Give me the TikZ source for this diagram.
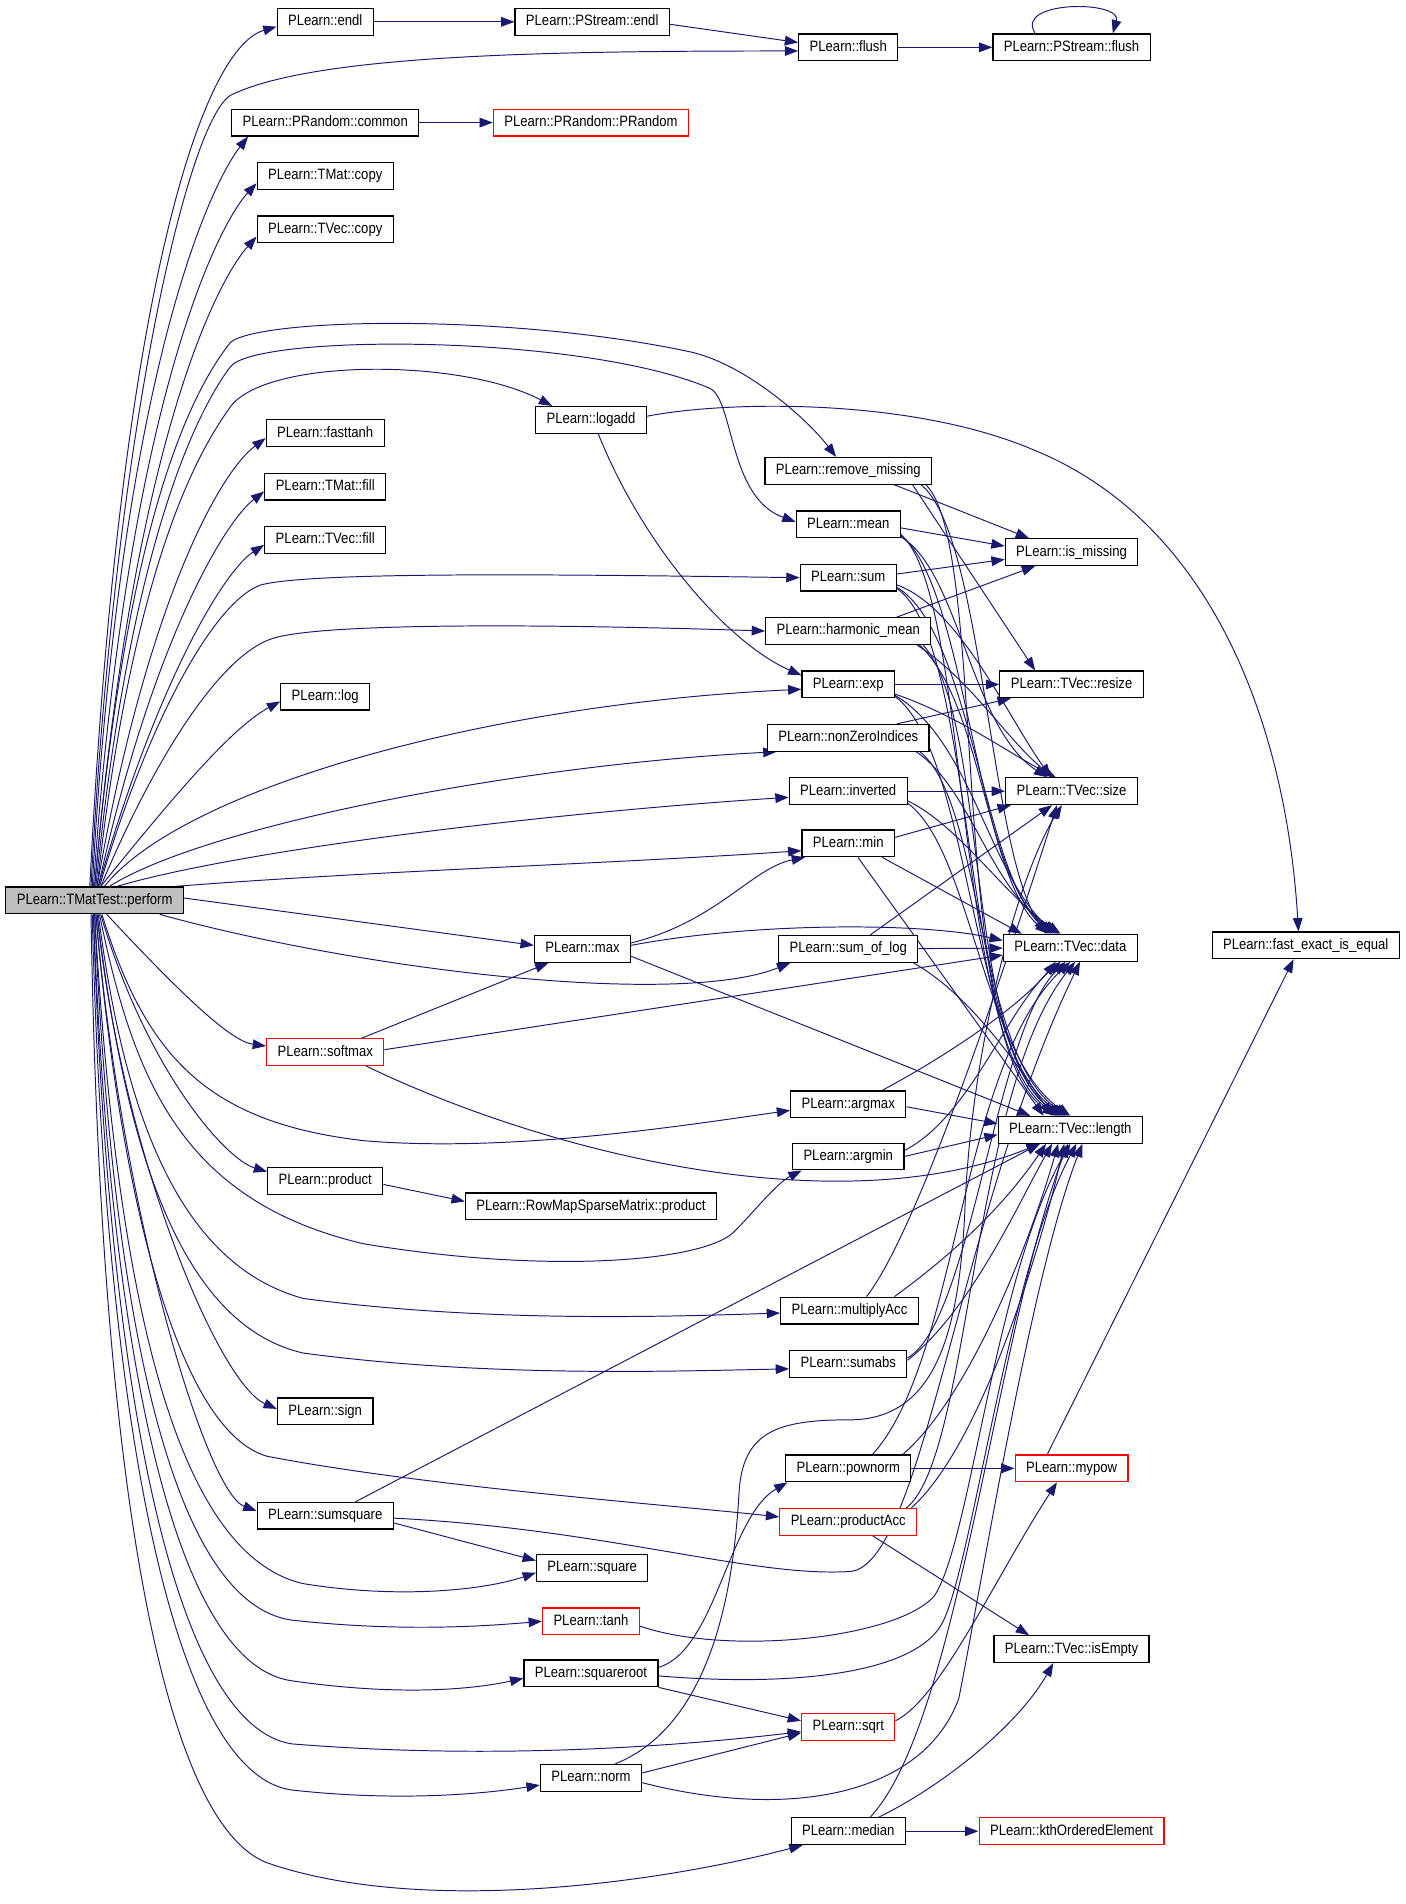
\documentclass[tikz,border=0pt]{standalone}
\usepackage{fontspec}
\setmainfont{Liberation Sans}[FakeStretch=0.87]
\usetikzlibrary{arrows.meta,backgrounds}
\definecolor{callblue}{HTML}{191970}
\definecolor{boxred}{HTML}{FF0000}
\definecolor{rootgray}{HTML}{BFBFBF}

\begin{document}
\begin{tikzpicture}[x=1pt,y=-1pt,
    fn/.style={draw=black,line width=1pt,fill=white,inner xsep=9pt,inner ysep=0pt,minimum height=22pt,text height=9pt,text depth=2.5pt,font=\fontsize{12.4}{14}\selectfont},
    fnred/.style={fn,draw=boxred},
    fnroot/.style={fn,fill=rootgray},
    call/.style={draw=callblue,line width=0.8pt,-{Triangle[length=11pt,width=8pt]}}]
    \useasboundingbox (0,0) rectangle (1158,1569);
    \node[fnroot] (perform) at (78,742) {PLearn::TMatTest::perform};
    \node[fn] (endl) at (268,18) {PLearn::endl};
    \node[fn] (common) at (268,101) {PLearn::PRandom::common};
    \node[fn] (tmatcopy) at (268,145) {PLearn::TMat::copy};
    \node[fn] (tveccopy) at (268,189) {PLearn::TVec::copy};
    \node[fn] (fasttanh) at (268,357) {PLearn::fasttanh};
    \node[fn] (tmatfill) at (268,401) {PLearn::TMat::fill};
    \node[fn] (tvecfill) at (268,445) {PLearn::TVec::fill};
    \node[fn] (log) at (268,574) {PLearn::log};
    \node[fnred] (softmax) at (268,867) {PLearn::softmax};
    \node[fn] (product) at (268,973) {PLearn::product};
    \node[fn] (sign) at (268,1163) {PLearn::sign};
    \node[fn] (sumsquare) at (268,1249) {PLearn::sumsquare};
    \node[fn] (pendl) at (488,18) {PLearn::PStream::endl};
    \node[fnred] (prandom) at (487,101) {PLearn::PRandom::PRandom};
    \node[fn] (logadd) at (487,346) {PLearn::logadd};
    \node[fn] (max) at (480,782) {PLearn::max};
    \node[fn] (rowprod) at (487,994) {PLearn::RowMapSparseMatrix::product};
    \node[fn] (square) at (488,1292) {PLearn::square};
    \node[fnred] (tanh) at (487,1336) {PLearn::tanh};
    \node[fn] (squareroot) at (487,1379) {PLearn::squareroot};
    \node[fn] (norm) at (487,1465) {PLearn::norm};
    \node[fn] (flush) at (699,39) {PLearn::flush};
    \node[fn] (removemissing) at (699,388) {PLearn::remove\_missing};
    \node[fn] (mean) at (699,432) {PLearn::mean};
    \node[fn] (sum) at (699,476) {PLearn::sum};
    \node[fn] (hmean) at (699,520) {PLearn::harmonic\_mean};
    \node[fn] (exp) at (699,564) {PLearn::exp};
    \node[fn] (nonzero) at (699,608) {PLearn::nonZeroIndices};
    \node[fn] (inverted) at (699,652) {PLearn::inverted};
    \node[fn] (min) at (699,695) {PLearn::min};
    \node[fn] (sumoflog) at (699,782) {PLearn::sum\_of\_log};
    \node[fn] (argmax) at (699,910) {PLearn::argmax};
    \node[fn] (argmin) at (699,953) {PLearn::argmin};
    \node[fn] (multacc) at (700,1080) {PLearn::multiplyAcc};
    \node[fn] (sumabs) at (699,1124) {PLearn::sumabs};
    \node[fn] (pownorm) at (699,1210) {PLearn::pownorm};
    \node[fnred] (prodacc) at (699,1254) {PLearn::productAcc};
    \node[fnred] (sqrt) at (699,1423) {PLearn::sqrt};
    \node[fn] (median) at (699,1509) {PLearn::median};
    \node[fn] (pflush) at (883,39) {PLearn::PStream::flush};
    \node[fn] (ismissing) at (883,455) {PLearn::is\_missing};
    \node[fn] (resize) at (883,564) {PLearn::TVec::resize};
    \node[fn] (size) at (883,652) {PLearn::TVec::size};
    \node[fn] (data) at (882,781) {PLearn::TVec::data};
    \node[fn] (length) at (882,931) {PLearn::TVec::length};
    \node[fnred] (mypow) at (883,1210) {PLearn::mypow};
    \node[fn] (isempty) at (883,1359) {PLearn::TVec::isEmpty};
    \node[fnred] (kth) at (883,1509) {PLearn::kthOrderedElement};
    \node[fn] (fastequal) at (1076,779) {PLearn::fast\_exact\_is\_equal};
    \begin{scope}[on background layer]
    \draw[call] ([xshift=-4pt]perform.north) .. controls (98,250) and (165,40) .. ([yshift=-4pt]endl.west);
    \draw[call] ([xshift=-3pt]perform.north) .. controls (95,350) and (156,95) .. (191,78) .. controls (260,45) and (450,42) .. ([yshift=-3pt]flush.west);
    \draw[call] ([xshift=-2pt]perform.north) .. controls (100,300) and (175,150) .. ([xshift=14pt]common.south west);
    \draw[call] ([xshift=-1pt]perform.north) .. controls (105,330) and (180,185) .. ([yshift=-6pt]tmatcopy.west);
    \draw[call] (perform.north) .. controls (110,360) and (180,230) .. ([yshift=-6pt]tveccopy.west);
    \draw[call] (perform.north) .. controls (105,420) and (160,320) .. (190,282) .. controls (215,262) and (420,258) .. (569,290) .. controls (614,300) and (665,345) .. ([xshift=-10pt]removemissing.north);
    \draw[call] ([xshift=1pt]perform.north) .. controls (108,440) and (165,335) .. (190,302) .. controls (212,275) and (480,275) .. (585,320) .. controls (605,330) and (600,410) .. ([yshift=2pt]mean.west);
    \draw[call] ([xshift=2pt]perform.north) .. controls (110,460) and (165,370) .. (190,335) .. controls (220,295) and (380,295) .. ([xshift=-32pt]logadd.north);
    \draw[call] ([xshift=2pt]perform.north) .. controls (120,500) and (180,390) .. ([yshift=-4pt]fasttanh.west);
    \draw[call] ([xshift=3pt]perform.north) .. controls (125,530) and (185,430) .. ([yshift=-4pt]tmatfill.west);
    \draw[call] ([xshift=3pt]perform.north) .. controls (130,560) and (185,470) .. ([yshift=-4pt]tvecfill.west);
    \draw[call] ([xshift=4pt]perform.north) .. controls (120,600) and (175,496) .. (215,482) .. controls (260,470) and (500,474) .. (sum.west);
    \draw[call] ([xshift=5pt]perform.north) .. controls (125,630) and (180,540) .. (225,526) .. controls (270,512) and (480,515) .. (hmean.west);
    \draw[call] ([xshift=5pt]perform.north) .. controls (140,660) and (190,600) .. ([yshift=-4pt]log.west);
    \draw[call] ([xshift=8pt]perform.north) .. controls (150,650) and (400,580) .. ([yshift=-4pt]exp.west);
    \draw[call] ([xshift=12pt]perform.north) .. controls (170,680) and (430,630) .. ([xshift=8pt]nonzero.south west);
    \draw[call] ([xshift=18pt]perform.north) .. controls (200,700) and (450,670) .. ([yshift=-5pt]inverted.west);
    \draw[call] ([xshift=-8pt]perform.north east) .. controls (300,718) and (500,712) .. ([yshift=-6pt]min.west);
    \draw[call] ([yshift=2pt]perform.east) -- ([yshift=3pt]max.west);
    \draw[call] ([xshift=-20pt]perform.south east) .. controls (300,800) and (560,830) .. ([xshift=10pt]sumoflog.south west);
    \draw[call] ([xshift=10pt]perform.south) .. controls (150,820) and (190,858) .. ([yshift=5pt]softmax.west);
    \draw[call] ([xshift=6pt]perform.south) .. controls (120,870) and (170,925) .. (300,940) .. controls (420,950) and (560,928) .. ([yshift=-5pt]argmax.west);
    \draw[call] ([xshift=5pt]perform.south) .. controls (120,880) and (185,955) .. ([yshift=-4pt]product.north west);
    \draw[call] ([xshift=4pt]perform.south) .. controls (110,890) and (150,990) .. (300,1025) .. controls (450,1050) and (580,1040) .. (605,1015) .. controls (620,1000) and (640,975) .. ([xshift=8pt]argmin.south west);
    \draw[call] ([xshift=3pt]perform.south) .. controls (100,900) and (140,1040) .. (250,1070) .. controls (400,1090) and (550,1085) .. ([yshift=-2pt]multacc.west);
    \draw[call] ([xshift=2pt]perform.south) .. controls (100,920) and (140,1090) .. (250,1115) .. controls (400,1135) and (550,1130) .. ([yshift=-4pt]sumabs.west);
    \draw[call] ([xshift=2pt]perform.south) .. controls (100,950) and (180,1140) .. ([yshift=2pt]sign.west);
    \draw[call] ([xshift=1pt]perform.south) .. controls (100,1000) and (150,1180) .. (220,1200) .. controls (350,1225) and (550,1240) .. ([yshift=4pt]prodacc.west);
    \draw[call] ([xshift=1pt]perform.south) .. controls (100,1000) and (170,1230) .. ([yshift=4pt]sumsquare.west);
    \draw[call] (perform.south) .. controls (95,1050) and (140,1280) .. (250,1305) .. controls (330,1318) and (400,1310) .. ([yshift=-4pt]square.west);
    \draw[call] (perform.south) .. controls (92,1080) and (140,1320) .. (240,1335) .. controls (330,1345) and (400,1340) .. (tanh.west);
    \draw[call] ([xshift=-1pt]perform.south) .. controls (90,1100) and (140,1370) .. (240,1385) .. controls (330,1398) and (390,1392) .. ([yshift=-4pt]squareroot.west);
    \draw[call] ([xshift=-1pt]perform.south) .. controls (88,1130) and (140,1420) .. (240,1437) .. controls (400,1450) and (550,1440) .. ([yshift=-4pt]sqrt.west);
    \draw[call] ([xshift=-2pt]perform.south) .. controls (86,1160) and (140,1460) .. (240,1475) .. controls (330,1485) and (400,1478) .. ([yshift=-6pt]norm.west);
    \draw[call] ([xshift=-3pt]perform.south) .. controls (82,1200) and (130,1500) .. (220,1535) .. controls (350,1580) and (550,1550) .. ([xshift=10pt]median.south west);
    \draw[call] (endl) -- (pendl);
    \draw[call] ([yshift=-2pt]pendl.east) -- ([yshift=4pt]flush.west);
    \draw[call] (flush) -- (pflush);
    \draw[call] ([xshift=-30pt]pflush.north) .. controls (835,0) and (925,0) .. ([xshift=34pt]pflush.north);
    \draw[call] (common) -- (prandom);
    \draw[call] ([yshift=3pt]logadd.east) .. controls (600,330) and (750,328) .. (850,370) .. controls (1000,430) and (1060,600) .. ([xshift=-6pt]fastequal.north);
    \draw[call] ([xshift=6pt]logadd.south) .. controls (530,450) and (600,530) .. ([yshift=-4pt]exp.north west);
    \draw[call] ([xshift=38pt]removemissing.south) -- ([xshift=-35pt]ismissing.north);
    \draw[call] ([xshift=53pt]removemissing.south) -- ([xshift=-30pt]resize.north);
    \draw[call] ([xshift=60pt]removemissing.south) .. controls (810,440) and (815,700) .. ([xshift=-20pt]data.north);
    \draw[call] ([xshift=64pt]removemissing.south) .. controls (815,450) and (780,860) .. ([xshift=-12pt]length.north);
    \draw[call] ([yshift=-3pt]mean.east) -- ([yshift=5pt]ismissing.west);
    \draw[call] ([yshift=1pt]mean.south east) .. controls (790,470) and (800,600) .. ([xshift=-20pt]size.north);
    \draw[call] ([yshift=2pt]mean.south east) .. controls (795,480) and (805,720) .. ([xshift=-18pt]data.north);
    \draw[call] ([yshift=3pt]mean.south east) .. controls (800,490) and (785,860) .. ([xshift=-10pt]length.north);
    \draw[call] ([yshift=3pt]sum.east) -- ([yshift=-6pt]ismissing.west);
    \draw[call] ([yshift=-6pt]sum.east) .. controls (790,500) and (830,590) .. ([xshift=-17pt]size.north);
    \draw[call] ([yshift=-8pt]sum.east) .. controls (800,520) and (810,720) .. ([xshift=-16pt]data.north);
    \draw[call] ([yshift=-9pt]sum.east) .. controls (805,530) and (790,860) .. ([xshift=-8pt]length.north);
    \draw[call] ([xshift=40pt]hmean.north) -- ([xshift=-30pt]ismissing.south);
    \draw[call] ([xshift=-12pt]hmean.south east) .. controls (800,560) and (830,610) .. ([xshift=-15pt]size.north);
    \draw[call] ([xshift=-10pt]hmean.south east) .. controls (810,580) and (810,720) .. ([xshift=-14pt]data.north);
    \draw[call] ([xshift=-7pt]hmean.south east) .. controls (815,590) and (795,870) .. ([xshift=-6pt]length.north);
    \draw[call] (exp) -- (resize);
    \draw[call] ([yshift=-8pt]exp.east) .. controls (790,590) and (830,620) .. ([xshift=-13pt]size.north);
    \draw[call] ([yshift=-9pt]exp.east) .. controls (800,610) and (815,720) .. ([xshift=-12pt]data.north);
    \draw[call] ([yshift=-10pt]exp.east) .. controls (800,620) and (800,870) .. ([xshift=-4pt]length.north);
    \draw[call] ([xshift=40pt]nonzero.north) -- ([xshift=-50pt]resize.south);
    \draw[call] ([xshift=56pt]nonzero.south) .. controls (800,650) and (815,730) .. ([xshift=-10pt]data.north);
    \draw[call] ([xshift=59pt]nonzero.south) .. controls (810,660) and (805,870) .. ([xshift=-2pt]length.north);
    \draw[call] (inverted) -- (size);
    \draw[call] ([yshift=-8pt]inverted.east) .. controls (790,680) and (830,740) .. ([xshift=-8pt]data.north);
    \draw[call] ([yshift=-10pt]inverted.east) .. controls (800,700) and (810,870) .. (length.north);
    \draw[call] ([yshift=5pt]min.east) -- ([xshift=-50pt]size.south);
    \draw[call] ([xshift=28pt]min.south) -- ([xshift=-40pt]data.north);
    \draw[call] ([xshift=8pt]min.south) -- ([xshift=-22pt]length.north);
    \draw[call] ([yshift=5pt]max.east) .. controls (590,760) and (620,715) .. ([xshift=3pt]min.south west);
    \draw[call] ([yshift=3pt]max.east) .. controls (620,760) and (760,760) .. ([yshift=6pt]data.west);
    \draw[call] ([yshift=-6pt]max.east) -- ([xshift=-33pt]length.north);
    \draw[call] ([xshift=18pt]sumoflog.north) -- ([xshift=-16pt]size.south);
    \draw[call] (sumoflog) -- (data);
    \draw[call] ([xshift=-4pt]sumoflog.south east) .. controls (800,820) and (840,880) .. ([xshift=-15pt]length.north);
    \draw[call] ([xshift=30pt]softmax.north) -- ([xshift=12pt]max.south west);
    \draw[call] ([yshift=2pt]softmax.east) -- ([yshift=-6pt]data.west);
    \draw[call] ([xshift=-15pt]softmax.south east) .. controls (450,950) and (690,1010) .. ([xshift=-25pt]length.south);
    \draw[call] ([xshift=28pt]argmax.north) .. controls (780,870) and (840,830) .. ([xshift=-12pt]data.south);
    \draw[call] ([yshift=-2pt]argmax.east) -- ([yshift=5pt]length.west);
    \draw[call] ([yshift=5pt]argmin.east) .. controls (800,920) and (830,830) .. ([xshift=-8pt]data.south);
    \draw[call] (argmin.east) -- ([yshift=-4pt]length.west);
    \draw[call] ([yshift=-3pt]product.east) -- ([yshift=4pt]rowprod.west);
    \draw[call] ([xshift=14pt]multacc.north) .. controls (760,1010) and (840,760) .. ([xshift=-12pt]size.south);
    \draw[call] ([xshift=37pt]multacc.north) .. controls (790,1030) and (830,990) .. ([xshift=-20pt]length.south);
    \draw[call] ([yshift=5pt]sumabs.east) .. controls (800,1090) and (820,850) .. ([xshift=-4pt]data.south);
    \draw[call] ([yshift=3pt]sumabs.east) .. controls (800,1080) and (840,990) .. ([xshift=-15pt]length.south);
    \draw[call] (pownorm) -- (mypow);
    \draw[call] ([xshift=20pt]pownorm.north) .. controls (790,1120) and (790,880) .. (data.south);
    \draw[call] ([xshift=45pt]pownorm.north) .. controls (800,1150) and (850,1020) .. ([xshift=-10pt]length.south);
    \draw[call] ([xshift=48pt]prodacc.north) .. controls (800,1200) and (800,900) .. ([xshift=4pt]data.south);
    \draw[call] ([xshift=52pt]prodacc.north) .. controls (810,1190) and (860,1020) .. ([xshift=-5pt]length.south);
    \draw[call] ([xshift=20pt]prodacc.south) -- ([xshift=-35pt]isempty.north);
    \draw[call] ([yshift=-6pt]sumsquare.east) -- ([yshift=6pt]square.west);
    \draw[call] ([xshift=25pt]sumsquare.north) -- ([xshift=-25pt]length.south);
    \draw[call] ([yshift=-2pt]sumsquare.east) .. controls (500,1260) and (620,1300) .. (700,1295) .. controls (760,1292) and (790,1000) .. ([xshift=8pt]data.south);
    \draw[call] ([yshift=-4pt]tanh.east) .. controls (600,1365) and (740,1350) .. (770,1315) .. controls (800,1270) and (820,1050) .. (length.south);
    \draw[call] ([yshift=5pt]squareroot.east) .. controls (590,1360) and (600,1250) .. ([xshift=2pt]pownorm.south west);
    \draw[call] ([yshift=-2pt]squareroot.east) .. controls (650,1390) and (750,1380) .. (775,1340) .. controls (800,1300) and (830,1050) .. ([xshift=5pt]length.south);
    \draw[call] (squareroot.south east) -- ([yshift=5pt]sqrt.west);
    \draw[call] ([yshift=5pt]sqrt.east) .. controls (775,1400) and (820,1300) .. ([xshift=-12pt]mypow.south);
    \draw[call] ([yshift=4pt]norm.east) -- ([yshift=-5pt]sqrt.west);
    \draw[call] ([yshift=-4pt]norm.east) .. controls (650,1500) and (760,1480) .. (790,1400) .. controls (810,1300) and (850,1050) .. ([xshift=10pt]length.south);
    \draw[call] ([xshift=20pt]norm.north) .. controls (590,1420) and (605,1300) .. (609,1230) .. controls (612,1180) and (640,1170) .. (700,1170) .. controls (770,1170) and (790,1100) .. (795,1000) .. controls (800,860) and (840,720) .. ([xshift=-8pt]size.south);
    \draw[call] (median) -- (kth);
    \draw[call] ([xshift=25pt]median.north) .. controls (780,1470) and (840,1420) .. ([xshift=-15pt]isempty.south);
    \draw[call] ([xshift=18pt]median.north) .. controls (790,1420) and (820,1100) .. ([xshift=-2pt]length.south);
    \draw[call] ([xshift=-20pt]mypow.north) -- ([xshift=-10pt]fastequal.south);
    \end{scope}
\end{tikzpicture}
\end{document}
